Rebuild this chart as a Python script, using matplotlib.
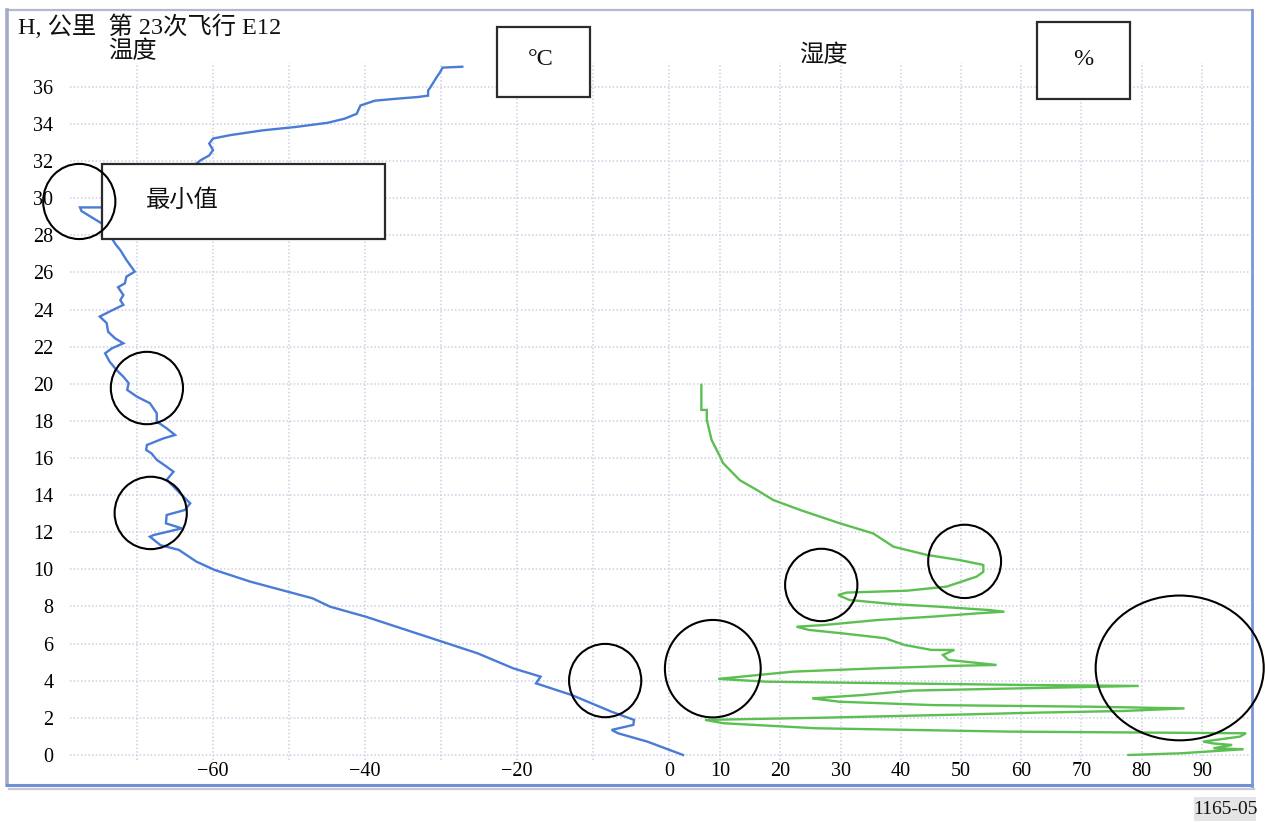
import numpy as np
import matplotlib
matplotlib.use("Agg")
import matplotlib.pyplot as plt
from matplotlib.patches import Ellipse, Rectangle
from matplotlib.lines import Line2D

plt.rcParams["font.family"] = ["Liberation Serif", "Noto Sans CJK SC"]
plt.rcParams["axes.unicode_minus"] = True

# ---- sounding data: flight 23, E12 ----
# temperature profile (degC) against altitude (km), from the ground upward
temp_c = [1.85, -2.85, -6.7, -7.55, -4.7, -4.6, -7.55, -12.8, -17.5, -16.9,
          -20.5, -25.2, -29.9, -35.2, -39.9, -44.6, -46.9, -51.0, -55.1, -59.8,
          -62.2, -64.5, -66.9, -68.3, -67.8, -64.1, -66.2, -66.1, -63.7, -63.0,
          -64.1, -65.2, -66.1, -65.2, -66.1, -67.4, -68.1, -68.8, -68.7, -66.5,
          -65.0, -66.1, -67.4, -67.4, -68.3, -70.0, -71.3, -71.1, -71.8, -72.7,
          -73.6, -74.2, -73.3, -71.8, -72.9, -73.8, -74.0, -74.9, -73.6, -71.8,
          -72.2, -71.8, -72.5, -71.6, -71.4, -70.3, -71.4, -72.2, -72.8, -74.5,
          -77.3, -77.5, -74.8, -70.0, -66.0, -63.0, -61.6, -60.5, -60.0, -60.5,
          -60.0, -57.8, -53.5, -49.2, -44.9, -42.7, -41.1, -40.6, -38.7, -36.3,
          -33.0, -31.7, -31.7, -31.4, -30.6, -30.1, -29.8, -27.2]
temp_alt_km = [0.0, 0.72, 1.17, 1.35, 1.62, 1.89, 2.33, 3.23, 3.86, 4.22,
               4.67, 5.48, 6.11, 6.82, 7.45, 7.99, 8.44, 8.89, 9.34, 9.97,
               10.42, 11.05, 11.3, 11.76, 11.85, 12.21, 12.48, 12.93, 13.2, 13.56,
               14.0, 14.46, 14.82, 15.26, 15.53, 15.9, 16.25, 16.43, 16.7, 17.06,
               17.24, 17.6, 17.96, 18.41, 18.95, 19.3, 19.67, 20.03, 20.38, 20.74,
               21.19, 21.64, 21.91, 22.18, 22.45, 22.8, 23.27, 23.62, 23.89, 24.25,
               24.5, 24.78, 25.2, 25.41, 25.77, 26.04, 26.67, 27.2, 27.5, 28.6,
               29.3, 29.5, 29.5, 30.2, 31.0, 31.6, 32.05, 32.3, 32.59, 32.94,
               33.21, 33.39, 33.65, 33.83, 34.06, 34.28, 34.54, 34.99, 35.25, 35.34,
               35.45, 35.52, 35.8, 35.97, 36.5, 36.8, 37.03, 37.08]

# relative humidity profile (%) against altitude (km), from the ground upward
hum_pct = [77.8, 86.4, 96.9, 91.9, 95.0, 91.9, 90.2, 96.3, 97.3, 57.8,
           25.9, 10.6, 7.5, 27.2, 51.4, 62.3, 76.9, 87.1, 71.8, 45.1,
           29.8, 25.3, 33.6, 41.9, 59.7, 79.5, 61.0, 17.6, 9.7, 22.1,
           36.1, 48.2, 55.9, 47.9, 47.0, 48.9, 45.1, 40.6, 37.4, 30.4,
           24.7, 22.7, 27.2, 36.1, 45.1, 52.7, 57.2, 54.6, 46.3, 38.7,
           31.5, 29.6, 31.0, 41.0, 47.6, 52.6, 53.7, 53.7, 49.8, 44.3,
           38.8, 35.4, 29.9, 23.3, 18.8, 16.1, 13.3, 11.6, 10.5, 9.7,
           8.6, 7.8, 7.8, 6.9, 6.9]
hum_alt_km = [0.0, 0.09, 0.31, 0.36, 0.54, 0.62, 0.72, 0.99, 1.17, 1.26,
              1.44, 1.71, 1.89, 2.01, 2.19, 2.28, 2.37, 2.51, 2.60, 2.69,
              2.87, 3.05, 3.23, 3.47, 3.59, 3.72, 3.77, 3.95, 4.10, 4.49,
              4.67, 4.80, 4.85, 5.12, 5.39, 5.66, 5.66, 5.93, 6.29, 6.55,
              6.74, 6.91, 7.00, 7.27, 7.45, 7.63, 7.72, 7.81, 7.99, 8.13,
              8.35, 8.62, 8.75, 8.85, 9.07, 9.61, 9.87, 10.24, 10.5, 10.78,
              11.22, 11.94, 12.48, 13.2, 13.74, 14.28, 14.8, 15.36, 15.73, 16.27,
              16.97, 18.05, 18.59, 18.59, 19.94]

alt_ticks = list(range(0, 37, 2))
temp_ticks = [-60, -40, -20, 0]
temp_grid_minor = [-70, -50, -30, -10]
hum_ticks = list(range(10, 91, 10))

# highlighted regions: (centre x, centre altitude, width, height)
temp_marks = [(-77.6, 29.82, 9.5, 4.05), (-68.7, 19.77, 9.5, 3.9),
              (-68.2, 13.04, 9.5, 3.9), (-8.4, 4.01, 9.5, 3.95)]
hum_marks = [(8.8, 4.65, 15.9, 5.25), (26.8, 9.16, 12.0, 3.9),
             (50.6, 10.43, 12.1, 3.95), (86.3, 4.69, 27.9, 7.8)]

W, H = 1265, 823
fig = plt.figure(figsize=(W / 100, H / 100), dpi=100)
fig.patch.set_facecolor("white")

grid_kw = dict(color="#cdd0e4", linestyle=(0, (1.0, 1.4)), linewidth=1.1)
blue = "#4a7bd5"
green = "#5cbf52"

# plot area in pixels: x 70..1250, y 63..760
ax = fig.add_axes([70 / W, 1 - 760 / H, 1180 / W, 697 / H])
ax.set_xlim(-78.82, 76.45)
ax.set_ylim(-0.27, 37.28)
ax.set_yticks(alt_ticks)
ax.set_xticks(temp_ticks)
ax.set_xticks(temp_grid_minor, minor=True)
ax.yaxis.grid(True, **grid_kw)
ax.xaxis.grid(True, which="both", **grid_kw)
ax.set_axisbelow(True)
for s in ax.spines.values():
    s.set_visible(False)
ax.tick_params(axis="y", which="both", length=0, pad=12, labelsize=14.5)
ax.tick_params(axis="x", which="both", length=0, pad=1.5, labelsize=14.5)
ax.plot(temp_c, temp_alt_km, color=blue, lw=1.7, solid_joinstyle="miter")

ax2 = ax.twiny()
ax2.set_xlim(-97.9, 97.97)
ax2.set_xticks(hum_ticks)
ax2.xaxis.set_ticks_position("bottom")
ax2.xaxis.set_label_position("bottom")
ax2.xaxis.grid(True, **grid_kw)
ax2.set_axisbelow(True)
for s in ax2.spines.values():
    s.set_visible(False)
ax2.tick_params(axis="x", length=0, pad=1.5, labelsize=14.5)
ax2.plot(hum_pct, hum_alt_km, color=green, lw=1.7, solid_joinstyle="miter")

# overlay in pixel units for frame, captions and boxes
ov = fig.add_axes([0, 0, 1, 1], zorder=5)
ov.set_xlim(0, W)
ov.set_ylim(H, 0)
ov.axis("off")
ov.patch.set_alpha(0)

# outer frame
ov.add_line(Line2D([7, 1252], [10, 10], color="#b4b8cc", lw=1.6))
ov.add_line(Line2D([7, 7], [10, 785], color="#a3abc8", lw=2.6))
ov.add_line(Line2D([7, 1252], [785, 785], color="#6f8fd6", lw=2.2))
ov.add_line(Line2D([9, 1254], [788.5, 788.5], color="#c8c8d0", lw=1.6))
ov.add_line(Line2D([1251.5, 1251.5], [10, 786], color="#7a97d8", lw=2.0))

box_kw = dict(facecolor="white", edgecolor="#2b2b2b", lw=1.6)
ov.add_patch(Rectangle((497, 27), 93, 70, **box_kw))
ov.add_patch(Rectangle((1037, 22), 93, 77, **box_kw))
ov.add_patch(Rectangle((102, 164), 283, 75, **box_kw))

txt_kw = dict(fontsize=17.5, color="#111111")
ov.text(18, 27, "H, 公里  第 23次飞行 E12", ha="left", va="center", **txt_kw)
ov.text(108, 52, "温度", ha="left", va="center", **txt_kw)
ov.text(541, 59, "°C", ha="center", va="center", **txt_kw)
ov.text(823, 56, "湿度", ha="center", va="center", **txt_kw)
ov.text(1083, 59, "%", ha="center", va="center", **txt_kw)
ov.text(146, 201, "最小值", ha="left", va="center", **txt_kw)
ov.add_patch(Rectangle((1194, 797), 62, 24, facecolor="#e4e4e4", edgecolor="none"))
ov.text(1225, 809, "1165-05", ha="center", va="center", fontsize=14, color="#111111")

# highlight ellipses drawn in data units of each scale
for (cx, cy, w, h) in temp_marks:
    ov.add_patch(Ellipse((cx, cy), w, h, transform=ax.transData, fill=False,
                         edgecolor="black", lw=1.5, clip_on=False, zorder=6))
for (cx, cy, w, h) in hum_marks:
    ov.add_patch(Ellipse((cx, cy), w, h, transform=ax2.transData, fill=False,
                         edgecolor="black", lw=1.5, clip_on=False, zorder=6))

fig.savefig("out.png", dpi=100, facecolor="white")
